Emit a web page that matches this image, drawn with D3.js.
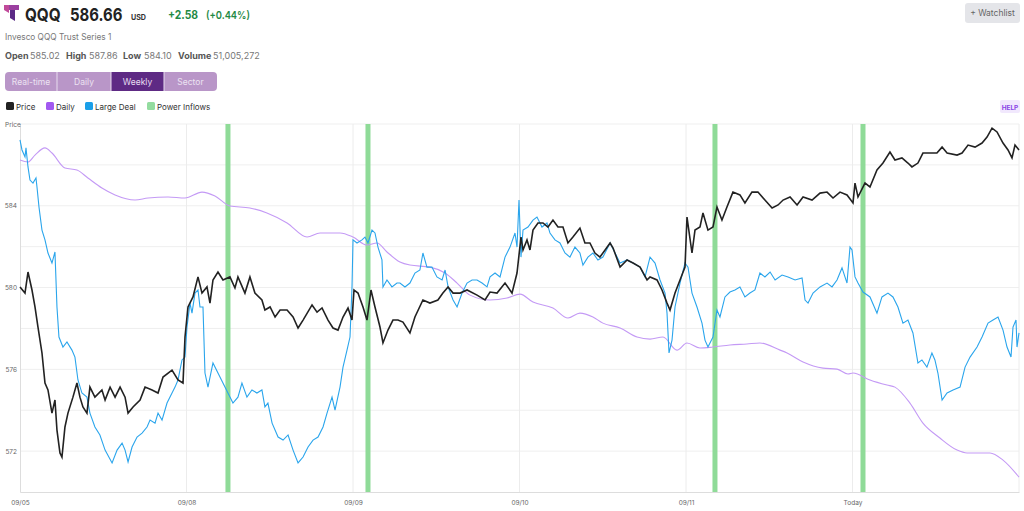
<!DOCTYPE html>
<html><head><meta charset="utf-8">
<script src="https://cdn.jsdelivr.net/npm/d3@7"></script>
<style>
body{margin:0;background:#fff;font-family:Inter,"Noto Sans",sans-serif;}
svg{display:block}
</style></head>
<body><svg id="c" width="1024" height="511"></svg>
<script>
// ---- data (t = trading days since 09/05 open, value = price) ----
const dayLabels = ["09/05","09/08","09/09","09/10","09/11","Today"];
const yTickValues = [572,576,580,584];
const yGridValues = [572,574,576,578,580,582,584,586,588];
const powerInflowTimes = [1.249, 2.090, 4.174, 5.063];

const priceT = [0,0.030,0.048,0.072,0.090,0.108,0.132,0.150,0.168,0.192,0.210,0.222,0.240,0.252,0.270,0.288,0.318,0.342,0.360,0.378,0.402,0.420,0.450,0.492,0.511,0.541,0.571,0.601,0.631,0.649,0.679,0.721,0.751,0.793,0.829,0.859,0.913,0.949,0.979,0.991,1.009,1.039,1.069,1.093,1.123,1.141,1.159,1.189,1.219,1.261,1.291,1.309,1.351,1.381,1.411,1.453,1.471,1.502,1.532,1.562,1.604,1.640,1.670,1.700,1.754,1.784,1.814,1.850,1.880,1.910,1.940,1.970,1.994,2.006,2.030,2.060,2.084,2.108,2.132,2.162,2.180,2.210,2.240,2.270,2.300,2.342,2.372,2.420,2.462,2.510,2.540,2.571,2.601,2.643,2.685,2.745,2.793,2.823,2.865,2.913,2.955,2.985,3.009,3.021,3.045,3.063,3.081,3.111,3.141,3.171,3.201,3.231,3.261,3.291,3.321,3.363,3.393,3.423,3.453,3.483,3.514,3.544,3.562,3.604,3.646,3.682,3.724,3.766,3.784,3.826,3.856,3.886,3.904,3.934,3.964,3.994,4.006,4.036,4.054,4.084,4.102,4.132,4.162,4.186,4.216,4.246,4.282,4.324,4.354,4.396,4.432,4.474,4.517,4.553,4.583,4.625,4.667,4.703,4.757,4.805,4.847,4.883,4.925,4.967,5.003,5.015,5.033,5.075,5.105,5.147,5.183,5.225,5.255,5.297,5.333,5.357,5.393,5.423,5.465,5.507,5.538,5.568,5.628,5.658,5.694,5.736,5.778,5.808,5.838,5.868,5.904,5.934,5.958,5.976,6.000];
const priceV = [580.03,579.73,580.76,579.88,579.05,578.07,576.80,575.33,574.99,573.86,574.50,573.03,571.91,571.71,573.18,573.86,574.64,575.33,574.64,574.16,573.86,575.13,574.64,574.99,574.50,575.13,574.64,575.13,574.64,573.86,574.16,574.50,575.13,574.99,574.84,575.62,575.96,575.48,575.33,577.58,579.05,579.54,580.52,579.73,580.03,579.24,580.37,580.76,580.37,580.52,579.98,580.52,579.73,580.52,579.73,579.39,578.90,579.05,578.56,578.90,578.90,578.56,578.02,578.41,579.15,578.80,579.00,578.41,578.02,577.92,578.56,579.00,578.41,579.88,579.73,579.05,578.41,579.88,579.05,578.07,577.29,577.92,578.41,578.41,578.31,577.78,578.56,579.39,579.24,579.39,579.73,580.03,579.73,579.73,579.88,579.63,579.39,579.78,579.73,580.22,579.73,580.71,582.47,581.84,582.33,581.84,582.81,583.16,583.16,582.96,583.30,582.96,582.96,582.18,582.47,582.91,582.18,582.18,581.69,581.49,581.84,582.18,581.93,581.00,581.35,581.20,581.00,580.37,580.52,580.37,579.88,579.24,578.90,579.73,580.37,581.00,583.45,581.69,582.81,582.96,583.65,582.81,582.96,583.94,583.30,583.94,584.67,584.53,584.14,584.67,584.67,584.28,583.89,584.04,584.28,584.43,584.04,584.43,584.28,584.62,584.67,584.38,584.67,584.53,584.14,585.11,584.43,585.11,584.92,585.75,586.09,586.63,586.24,586.34,586.09,585.90,586.09,586.58,586.58,586.58,586.87,586.58,586.48,586.58,586.97,586.87,587.07,587.36,587.80,587.61,587.07,586.73,586.34,586.97,586.73];

const largeDealT = [0,0.012,0.030,0.036,0.048,0.060,0.078,0.096,0.102,0.114,0.132,0.150,0.168,0.192,0.210,0.222,0.234,0.258,0.282,0.312,0.330,0.348,0.372,0.402,0.420,0.450,0.480,0.511,0.553,0.583,0.613,0.631,0.649,0.673,0.703,0.733,0.763,0.781,0.811,0.829,0.853,0.883,0.913,0.931,0.949,0.973,0.991,1.003,1.021,1.033,1.051,1.069,1.081,1.099,1.111,1.129,1.159,1.189,1.219,1.249,1.279,1.309,1.333,1.363,1.393,1.423,1.453,1.471,1.489,1.514,1.550,1.580,1.610,1.640,1.670,1.700,1.730,1.760,1.790,1.820,1.844,1.874,1.892,1.922,1.940,1.964,1.982,1.994,2.000,2.024,2.054,2.072,2.090,2.114,2.132,2.150,2.174,2.180,2.204,2.234,2.264,2.282,2.312,2.342,2.372,2.402,2.420,2.444,2.474,2.504,2.535,2.553,2.571,2.601,2.625,2.655,2.685,2.715,2.745,2.775,2.805,2.823,2.853,2.883,2.913,2.943,2.973,2.985,2.997,3.009,3.021,3.051,3.081,3.105,3.135,3.165,3.183,3.213,3.243,3.273,3.303,3.333,3.363,3.381,3.411,3.441,3.471,3.501,3.544,3.574,3.604,3.646,3.682,3.724,3.754,3.784,3.814,3.844,3.874,3.886,3.898,3.916,3.934,3.964,3.994,4.012,4.036,4.066,4.096,4.114,4.132,4.162,4.186,4.204,4.234,4.264,4.294,4.324,4.354,4.384,4.414,4.444,4.474,4.505,4.535,4.577,4.613,4.655,4.697,4.715,4.733,4.763,4.805,4.847,4.877,4.907,4.937,4.967,4.985,4.997,5.015,5.033,5.063,5.105,5.147,5.177,5.213,5.243,5.273,5.303,5.333,5.363,5.393,5.417,5.447,5.477,5.495,5.513,5.538,5.568,5.604,5.646,5.676,5.706,5.748,5.778,5.814,5.844,5.874,5.904,5.928,5.952,5.964,5.982,5.988,6.000];
const largeDealV = [587.22,586.73,586.39,586.83,585.90,585.26,585.11,585.36,584.92,583.94,582.81,582.33,581.69,581.20,581.74,579.05,577.58,577.09,577.34,576.94,576.60,575.48,574.84,574.64,573.86,573.18,572.79,572.05,571.42,572.05,572.39,572.05,571.47,572.20,572.69,572.88,573.18,573.52,573.37,573.86,573.52,574.35,574.84,575.13,575.48,576.46,576.60,578.07,579.24,578.75,579.73,579.88,579.05,579.05,575.82,575.13,576.31,575.82,575.33,574.84,574.35,574.64,575.33,574.64,574.99,574.84,574.99,574.16,574.35,573.37,572.69,572.54,572.79,572.05,571.42,571.71,572.20,572.54,572.69,573.18,573.86,574.64,574.01,575.13,576.11,576.94,577.58,580.03,582.33,582.18,582.33,582.47,582.18,582.81,582.67,581.98,581.35,580.03,580.37,580.03,580.22,580.22,580.03,580.22,580.71,580.86,581.69,581.00,581.00,580.52,580.37,580.86,580.03,579.39,579.05,579.73,580.22,580.37,580.37,580.22,580.03,580.52,580.71,580.52,581.49,581.98,582.67,581.98,584.28,581.49,582.81,582.96,583.30,583.45,582.96,583.16,582.67,582.33,582.18,581.69,581.49,581.98,581.69,581.10,581.49,581.69,581.35,581.49,582.18,581.69,581.20,581.35,581.20,581.00,580.52,581.49,581.20,580.37,579.73,578.75,576.80,577.43,579.05,580.22,581.20,581.00,579.73,579.05,578.26,577.43,577.09,577.58,578.90,578.56,579.54,579.78,579.88,580.03,579.54,579.73,579.88,580.71,580.52,580.76,580.37,580.61,580.52,580.37,580.47,579.39,579.24,579.73,580.03,580.22,580.03,580.37,580.96,580.22,581.98,581.84,580.52,580.22,579.78,579.54,578.75,579.54,579.73,579.54,579.05,578.26,578.41,577.78,576.31,576.46,576.11,576.80,576.46,575.82,574.50,574.84,574.99,575.13,576.11,576.60,577.09,577.58,578.26,578.41,578.56,577.92,577.09,576.60,578.07,578.41,577.09,577.78];

const dailyT = [0,0.048,0.090,0.150,0.192,0.270,0.342,0.408,0.492,0.571,0.691,0.769,0.889,0.991,1.093,1.171,1.261,1.381,1.483,1.604,1.724,1.802,1.922,2.000,2.084,2.144,2.204,2.282,2.342,2.462,2.553,2.625,2.703,2.823,2.925,3.003,3.081,3.201,3.291,3.363,3.441,3.501,3.604,3.706,3.784,3.862,3.946,4.006,4.084,4.162,4.264,4.366,4.444,4.565,4.607,4.703,4.823,4.907,4.973,5.003,5.105,5.207,5.255,5.345,5.423,5.525,5.628,5.688,5.826,5.904,6.000];
const dailyV = [586.24,586.14,586.48,586.83,586.58,585.85,585.75,585.36,584.87,584.53,584.28,584.38,584.43,584.38,584.67,584.48,583.99,583.89,583.65,583.16,582.47,582.67,582.67,582.47,582.08,582.18,581.74,581.25,581.10,581.00,580.71,580.22,579.63,579.39,579.49,579.68,579.29,579.00,578.51,578.75,578.56,578.26,578.02,577.58,577.48,577.58,576.94,577.29,577.04,577.09,577.19,577.24,577.29,576.94,576.80,576.36,576.06,576.01,575.77,575.82,575.48,575.23,575.13,574.35,573.37,572.64,572.05,571.91,571.91,571.56,570.73];

// ---- drawing ----
const svg = d3.select("#c");
const M = {left:20, right:1019, top:124, bottom:492};
const x = d3.scaleLinear().domain([0,6]).range([M.left, M.right]);
const y = d3.scaleLinear().domain([570,588]).range([M.bottom, M.top]);

// text squeezed horizontally to a target width via transform
function sq(xp, yp, s, size, weight, fill, sx){
  return svg.append("text").attr("transform",`translate(${xp},${yp}) scale(${sx||1},1)`).text(s)
    .attr("font-size",size).attr("font-weight",weight).attr("fill",fill);
}

// header
const logo = svg.append("g").attr("transform","translate(4,5)");
logo.append("path").attr("d","M0,0 H15 V5 H0 Z").attr("fill","#9b3fa0");
logo.append("path").attr("d","M6,5 H11 V16 L6,13 Z").attr("fill","#5b2a86");
logo.append("path").attr("d","M0,0 H5 V8 L0,5 Z").attr("fill","#c04a9a");

sq(25,21,"QQQ",18,700,"#222",0.85);
sq(70,21,"586.66",18,700,"#222",0.83);
sq(131,20,"USD",7.5,700,"#333",0.95);
sq(168,19,"+2.58",11.5,700,"#1f8a45",0.9);
sq(206,19,"(+0.44%)",11,600,"#1f8a45",0.85);

sq(5,40,"Invesco QQQ Trust Series 1",9,400,"#777",0.92);

const stats = [["Open",5,"585.02",30],["High",66,"587.86",89],["Low",123,"584.10",144],["Volume",178,"51,005,272",213]];
stats.forEach(s=>{
  sq(s[1],59,s[0],9,700,"#555",1);
  sq(s[3],59,s[2],9,400,"#777",1);
});

// segmented buttons
const btns = [["Real-time",5,57],["Daily",57,111],["Weekly",111,164],["Sector",164,217]];
svg.append("rect").attr("x",5).attr("y",72).attr("width",212).attr("height",19).attr("rx",4).attr("fill","#b996c8");
btns.forEach((b,i)=>{
  if(b[0]==="Weekly") svg.append("rect").attr("x",b[1]).attr("y",72).attr("width",b[2]-b[1]).attr("height",19).attr("fill","#5e2a84");
  if(i>0) svg.append("line").attr("x1",b[1]).attr("x2",b[1]).attr("y1",72).attr("y2",91).attr("stroke","#e8dcef").attr("stroke-width",1);
  svg.append("text").attr("x",(b[1]+b[2])/2).attr("y",85).attr("text-anchor","middle")
    .attr("font-size",8.5).attr("fill", b[0]==="Weekly" ? "#e9def2" : "#ece3f2").text(b[0]);
});

// legend
const legend = [["Price","#222",6],["Daily","#a259f0",46],["Large Deal","#1a9fe8",85],["Power Inflows","#93dc9f",147]];
legend.forEach(l=>{
  svg.append("rect").attr("x",l[2]).attr("y",102).attr("width",8).attr("height",8).attr("rx",1.5).attr("fill",l[1]);
  svg.append("text").attr("x",l[2]+10).attr("y",109.5).attr("font-size",8).attr("fill","#333").text(l[0]);
});

// watchlist button
svg.append("rect").attr("x",965).attr("y",3).attr("width",55).attr("height",20).attr("rx",3).attr("fill","#e4e5e9");
svg.append("text").attr("x",992.5).attr("y",16).attr("text-anchor","middle").attr("font-size",8.5).attr("fill","#666").text("+ Watchlist");
// help badge
svg.append("rect").attr("x",1000).attr("y",100).attr("width",20).attr("height",13).attr("rx",2).attr("fill","#f1e8fd");
svg.append("text").attr("x",1010).attr("y",109.5).attr("text-anchor","middle").attr("font-size",6.5).attr("font-weight",700).attr("fill","#8b45e6").text("HELP");

// grid
const g = svg.append("g");
g.selectAll("line.hg").data(yGridValues).join("line")
  .attr("x1",M.left).attr("x2",M.right).attr("y1",d=>y(d)).attr("y2",d=>y(d))
  .attr("stroke","#efefef").attr("stroke-width",1);
g.selectAll("line.vg").data(d3.range(1,7)).join("line")
  .attr("x1",d=>x(d)).attr("x2",d=>x(d)).attr("y1",M.top).attr("y2",M.bottom)
  .attr("stroke","#ececec").attr("stroke-width",1);

// axes
const yAxis = d3.axisLeft(y).tickValues(yTickValues).tickSize(0).tickPadding(3).tickFormat(d3.format("d"));
const ya = svg.append("g").attr("transform",`translate(${M.left},0)`).call(yAxis);
ya.select(".domain").attr("stroke","#ddd");
ya.selectAll("text").attr("font-size",6.5).attr("fill","#666").attr("font-family","Inter,sans-serif");
svg.append("text").attr("x",5).attr("y",127).attr("font-size",6.5).attr("fill","#666").text("Price");

const xAxis = d3.axisBottom(x).tickValues(d3.range(0,6)).tickSize(0).tickPadding(8).tickFormat(i=>dayLabels[i]);
const xa = svg.append("g").attr("transform",`translate(0,${M.bottom})`).call(xAxis);
xa.select(".domain").attr("stroke","#ddd");
xa.selectAll("text").attr("font-size",6.5).attr("fill","#666").attr("font-family","Inter,sans-serif");

// power inflow bars
svg.selectAll("rect.pi").data(powerInflowTimes).join("rect")
  .attr("x",d=>x(d)-2.5).attr("y",M.top).attr("width",5).attr("height",M.bottom-M.top)
  .attr("fill","#8fdb98");

// lines
const zipped = (T,V)=>T.map((t,i)=>[t,V[i]]);
const line = d3.line().x(d=>x(d[0])).y(d=>y(d[1]));
svg.append("path").datum(zipped(dailyT,dailyV))
  .attr("d", d3.line().x(d=>x(d[0])).y(d=>y(d[1])).curve(d3.curveMonotoneX))
  .attr("fill","none").attr("stroke","#c49af5").attr("stroke-width",1.1);
svg.append("path").datum(zipped(largeDealT,largeDealV))
  .attr("d", line).attr("fill","none").attr("stroke","#2aa5ec").attr("stroke-width",1.1);
svg.append("path").datum(zipped(priceT,priceV))
  .attr("d", line).attr("fill","none").attr("stroke","#222").attr("stroke-width",1.6);
</script>
</body></html>
